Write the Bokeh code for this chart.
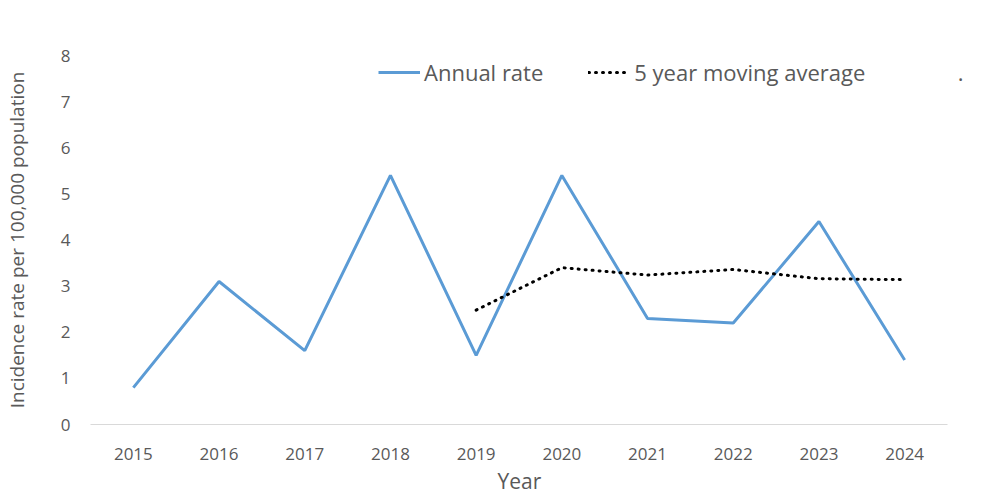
from bokeh.plotting import figure
from bokeh.models import Legend, LegendItem, Range1d, Label, FixedTicker, Title
from bokeh.embed import file_html
from bokeh.resources import INLINE

years = [2015, 2016, 2017, 2018, 2019, 2020, 2021, 2022, 2023, 2024]
annual_rate = [0.8, 3.1, 1.6, 5.4, 1.5, 5.4, 2.3, 2.2, 4.4, 1.4]
ma_years = [2019, 2020, 2021, 2022, 2023, 2024]
moving_avg = [2.48, 3.4, 3.24, 3.36, 3.16, 3.14]
legend_labels = ["Annual rate", "5 year moving average"]
y_ticks = [0, 1, 2, 3, 4, 5, 6, 7, 8]

FONT = "Open Sans"
GREY = "#595959"

p = figure(frame_width=887, frame_height=369,
           x_range=Range1d(2014.5, 2024.85), y_range=Range1d(0, 8),
           output_backend="svg", toolbar_location=None,
           min_border_left=90, min_border_right=7, min_border_top=55, min_border_bottom=68)
p.outline_line_color = None
p.xgrid.grid_line_color = None
p.ygrid.grid_line_color = None

r1 = p.line(years, annual_rate, line_color="#5B9BD5", line_width=3)
r2 = p.line(ma_years, moving_avg, line_color="black", line_width=3, line_dash="1 6", line_cap="round")

p.yaxis.ticker = FixedTicker(ticks=y_ticks)
p.yaxis.axis_line_color = None
p.yaxis.major_tick_line_color = None
p.yaxis.minor_tick_line_color = None
p.yaxis.major_label_standoff = 14
p.yaxis.major_label_text_font = FONT
p.yaxis.major_label_text_font_size = "17px"
p.yaxis.major_label_text_color = GREY
p.yaxis.axis_label = "Incidence rate per 100,000 population"
p.yaxis.axis_label_text_font = FONT
p.yaxis.axis_label_text_font_size = "19px"
p.yaxis.axis_label_text_font_style = "normal"
p.yaxis.axis_label_text_color = GREY
p.yaxis.axis_label_standoff = 28

p.xaxis.ticker = FixedTicker(ticks=years)
p.xaxis.bounds = (2014.5, 2024.5)
p.xaxis.axis_line_color = "#d9d9d9"
p.xaxis.axis_line_width = 1
p.xaxis.major_tick_line_color = None
p.xaxis.minor_tick_line_color = None
p.xaxis.major_label_standoff = 17
p.xaxis.major_label_text_font = FONT
p.xaxis.major_label_text_font_size = "17px"
p.xaxis.major_label_text_color = GREY

# x-axis title, centred under the axis line (not the wider frame)
x_title = Title(text="Year", align="left", offset=407, standoff=4,
                text_font=FONT, text_font_size="21px", text_font_style="normal",
                text_color=GREY)
p.add_layout(x_title, "below")

legend = Legend(items=[LegendItem(label=legend_labels[0], renderers=[r1]),
                       LegendItem(label=legend_labels[1], renderers=[r2])],
                orientation="horizontal", location=(288, 337),
                background_fill_alpha=0, border_line_color=None,
                label_text_font=FONT, label_text_font_size="22px", label_text_color=GREY,
                glyph_width=42, glyph_height=28, label_standoff=4, spacing=45,
                padding=0, margin=0)
p.add_layout(legend, "center")

dot = Label(x=2024.62, y=7.63, text=".", text_font=FONT, text_font_size="22px",
            text_color=GREY, text_baseline="alphabetic")
p.add_layout(dot)

open("out.html", "w").write(file_html(p, INLINE))
